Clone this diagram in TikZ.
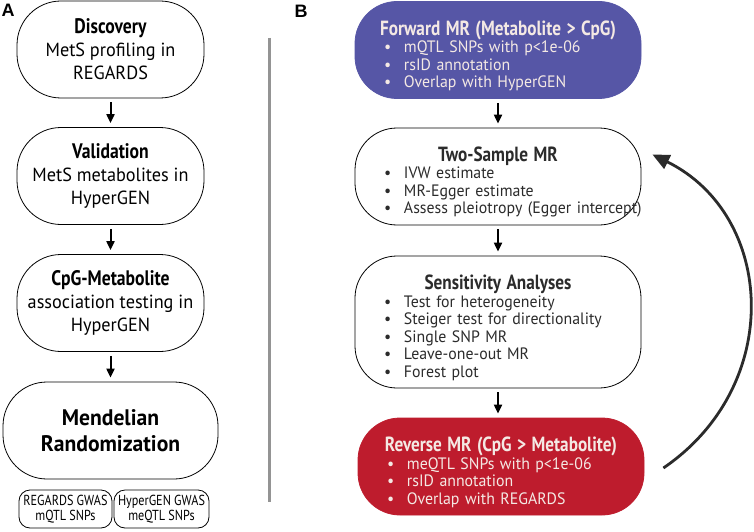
\documentclass[tikz,border=0pt]{standalone}
\usepackage{fontspec}
\setmainfont{PT Sans}[FakeStretch=0.96]
\newfontfamily\headfont[FakeStretch=0.84]{PT Sans}
\newfontfamily\labfont{Liberation Sans}
\usepackage{tikz}
\usetikzlibrary{positioning, arrows.meta}

\definecolor{fwdblue}{HTML}{5656A6}
\definecolor{revred}{HTML}{BE1C2D}
\definecolor{paletxt}{HTML}{F4E9E4}
\definecolor{darktxt}{HTML}{2B2B2B}

\newcommand{\bi}{\hspace*{29pt}\makebox[20pt][l]{\textbullet}}
\newcommand{\hd}[1]{\makebox[\tw][c]{\rule{0pt}{26pt}\headfont\bfseries\fontsize{20.5}{20}\selectfont #1}\\[0pt]}
\def\tw{286pt}

\begin{document}
\begin{tikzpicture}[x=1pt, y=-1pt,
          stepbox/.style={draw, line width=0.8pt, rounded corners=44pt,
            minimum width=187pt, minimum height=97pt, align=center,
            font=\fontsize{19}{23}\selectfont},
          snpbox/.style={draw, line width=0.8pt, rounded corners=11pt,
            minimum width=93pt, minimum height=38pt, inner sep=1pt, align=center,
            font=\headfont\fontsize{14.5}{15}\selectfont},
          mrbox/.style={draw, line width=0.8pt, rounded corners=42pt,
            minimum width=286pt, minimum height=97pt, text width=\tw, inner xsep=0pt,
            align=left, text=darktxt, font=\fontsize{16.5}{17.5}\selectfont},
          flow/.style={-{Triangle[length=9pt,width=8pt]}, line width=2pt,
            shorten <=4pt, shorten >=4pt},
          panel/.style={font=\labfont\bfseries\fontsize{18}{18}\selectfont}
        ]
        \useasboundingbox (0,0) rectangle (754,532);

        % panel A
        \node[panel] (labA) at (8,10) {A};
        \node[stepbox] (disc) at (110.5,49.5)
          {{\headfont\bfseries\fontsize{21}{23}\selectfont Discovery}\\MetS profiling in\\REGARDS};
        \node[stepbox] (valid) at (110.5,176)
          {{\headfont\bfseries\fontsize{21}{23}\selectfont Validation}\\MetS metabolites in\\HyperGEN};
        \node[stepbox] (cpg) at (110.5,303)
          {{\headfont\bfseries\fontsize{21}{23}\selectfont CpG-Metabolite}\\association testing in\\HyperGEN};
        \node[stepbox, minimum width=215pt, font=\bfseries\fontsize{22.5}{25.5}\selectfont]
          (mend) at (110.5,430.5) {Mendelian\\Randomization};
        \node[snpbox] (gwasr) at (65.5,509) {REGARDS GWAS\\mQTL SNPs};
        \node[snpbox, minimum width=95pt] (gwash) at (161.5,509) {HyperGEN GWAS\\meQTL SNPs};

        % divider
        \draw[black!42, line width=3pt] (269.5,38) -- (269.5,502);

        % panel B
        \node[panel] (labB) at (301,11) {B};
        \node[mrbox, fill=fwdblue, draw=fwdblue, text=paletxt] (fwd) at (498,50)
          {\hd{Forward MR (Metabolite > CpG)}
           \bi mQTL SNPs with p<1e-06\\ \bi rsID annotation\\ \bi Overlap with HyperGEN};
        \node[mrbox] (two) at (498,176.5)
          {\hd{Two-Sample MR}
           \bi IVW estimate\\ \bi MR-Egger estimate\\ \bi \mbox{Assess pleiotropy (Egger intercept)}};
        \node[mrbox, minimum height=132pt] (sens) at (498,322)
          {\hd{Sensitivity Analyses}
           \bi Test for heterogeneity\\ \bi Steiger test for directionality\\
           \bi Single SNP MR\\ \bi Leave-one-out MR\\ \bi Forest plot};
        \node[mrbox, fill=revred, draw=revred, text=paletxt] (rev) at (501,466.5)
          {\hd{Reverse MR (CpG > Metabolite)}
           \bi meQTL SNPs with p<1e-06\\ \bi rsID annotation\\ \bi Overlap with REGARDS};

        \foreach \a/\b in {disc/valid, valid/cpg, cpg/mend, fwd/two, two/sens, sens/rev}
          {\draw[flow] (\a.south) -- (\a.south |- \b.north);}

        % back to two-sample MR
        \coordinate (loopin) at ([shift={(19pt,-1.5pt)}]rev.east);
        \coordinate (loopout) at ([shift={(11pt,22pt)}]two.east);
        \draw[-{Triangle[length=17pt,width=15pt]}, line width=2.8pt, darktxt]
          (loopin) .. controls (785,385) and (775,215) .. (loopout);
      \end{tikzpicture}
\end{document}
